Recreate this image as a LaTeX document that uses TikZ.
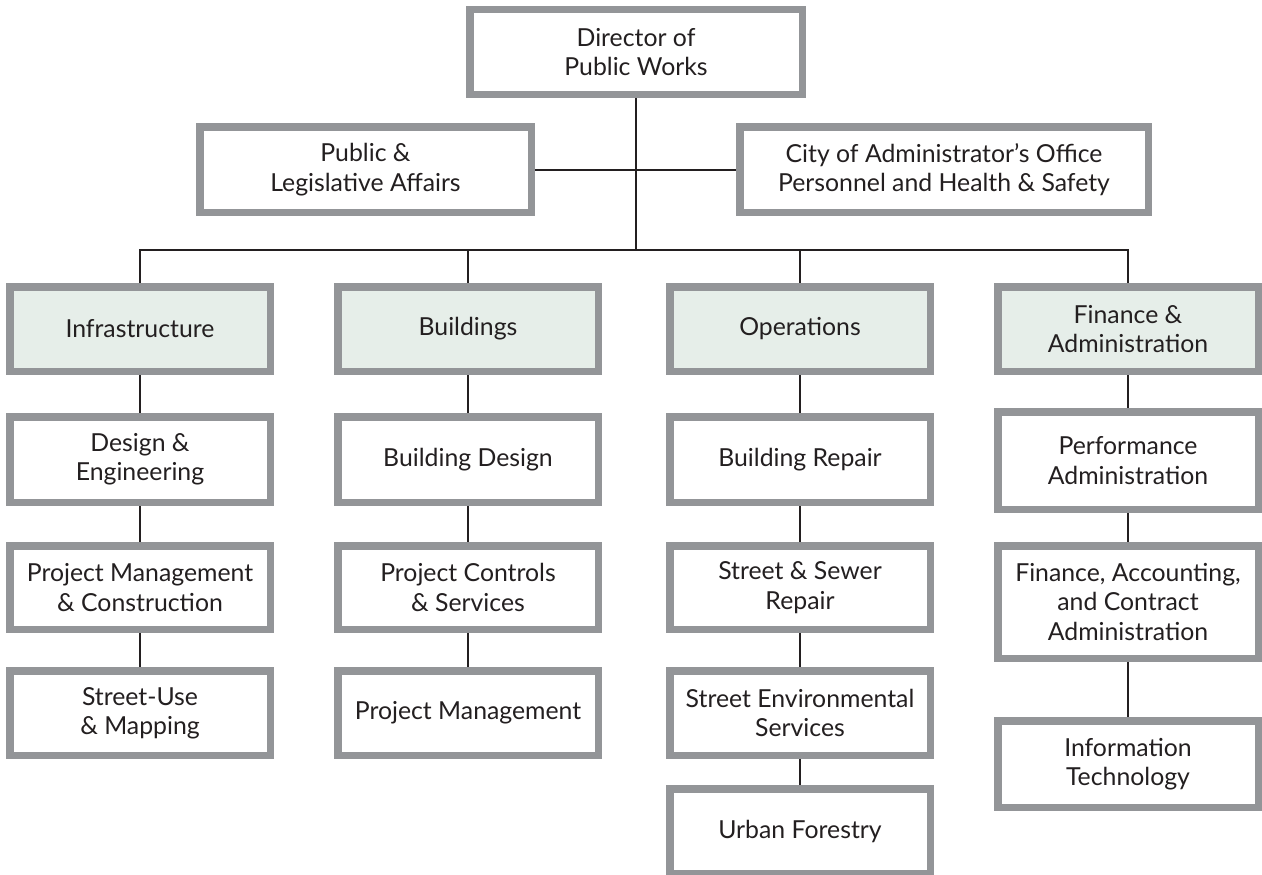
\documentclass[tikz,border=0pt]{standalone}
\usepackage{fontspec}
\setmainfont{Lato}
\definecolor{boxgray}{HTML}{939598}
\definecolor{divgreen}{HTML}{E6EEE9}
\definecolor{inkblack}{HTML}{231F20}

\begin{document}
\begin{tikzpicture}[x=0.75pt,y=-0.75pt,
  unit/.style={draw=boxgray,line width=5.625pt,fill=white,align=center,
    font=\fontsize{18.6}{22}\selectfont,text=inkblack,inner sep=0pt},
  division/.style={unit,fill=divgreen},
  wh/.style 2 args={minimum width={(#1)*0.75pt-5.625pt},
    minimum height={(#2)*0.75pt-5.625pt}},
  link/.style={draw=inkblack,line width=1.5pt}]
  \useasboundingbox (0,0) rectangle (1262,874);

  % top of the chart
  \node[unit,wh={340}{92}] (director) at (636,52) {Director of\\Public Works};
  \node[unit,wh={339}{93}] (pubaffairs) at (365.5,169.5) {Public \&\\Legislative Affairs};
  \node[unit,wh={416}{93}] (cityadmin) at (944,169.5)
    {City of Administrator’s Office\\Personnel and Health \& Safety};

  % divisions
  \node[division,wh={268}{92}] (infra) at (140,329) {Infrastructure};
  \node[division,wh={268}{92}] (bldg) at (468,329) {Buildings};
  \node[division,wh={268}{92}] (ops) at (800,329) {Operations};
  \node[division,wh={268}{92}] (finance) at (1128,329) {Finance \&\\Administration};

  % infrastructure
  \node[unit,wh={268}{93}] (design) at (140,459.5) {Design \&\\Engineering};
  \node[unit,wh={268}{91}] (pmc) at (140,587.5) {Project Management\\\& Construction};
  \node[unit,wh={268}{92}] (streetuse) at (140,713) {Street-Use\\\& Mapping};

  % buildings
  \node[unit,wh={268}{93}] (bdesign) at (468,459.5) {Building Design};
  \node[unit,wh={268}{91}] (controls) at (468,587.5) {Project Controls\\\& Services};
  \node[unit,wh={268}{92}] (projmgmt) at (468,713) {Project Management};

  % operations
  \node[unit,wh={268}{93}] (repair) at (800,459.5) {Building Repair};
  \node[unit,wh={268}{91}] (sewer) at (800,587.5) {Street \& Sewer\\Repair};
  \node[unit,wh={268}{92}] (envserv) at (800,713) {Street Environmental\\Services};
  \node[unit,wh={268}{92}] (forestry) at (800,831) {Urban Forestry};

  % finance
  \node[unit,wh={268}{105}] (perfadmin) at (1128,460.5) {Performance\\Administration};
  \node[unit,wh={268}{120}] (accounting) at (1128,602)
    {Finance, Accounting,\\and Contract\\Administration};
  \node[unit,wh={268}{94}] (infotech) at (1128,764) {Information\\Technology};

  % connectors
  \coordinate (bus) at (636,250);
  \path[link] (director) -- (bus);
  \path[link] (pubaffairs) -- (cityadmin);
  \path[link] (infra.north) |- (bus) -| (finance.north);
  \foreach \n in {bldg,ops}
    \path[link] (\n.north |- bus) -- (\n.north);
  \path[link] (infra) -- (design) -- (pmc) -- (streetuse);
  \path[link] (bldg) -- (bdesign) -- (controls) -- (projmgmt);
  \path[link] (ops) -- (repair) -- (sewer) -- (envserv) -- (forestry);
  \path[link] (finance) -- (perfadmin) -- (accounting) -- (infotech);
\end{tikzpicture}
\end{document}
